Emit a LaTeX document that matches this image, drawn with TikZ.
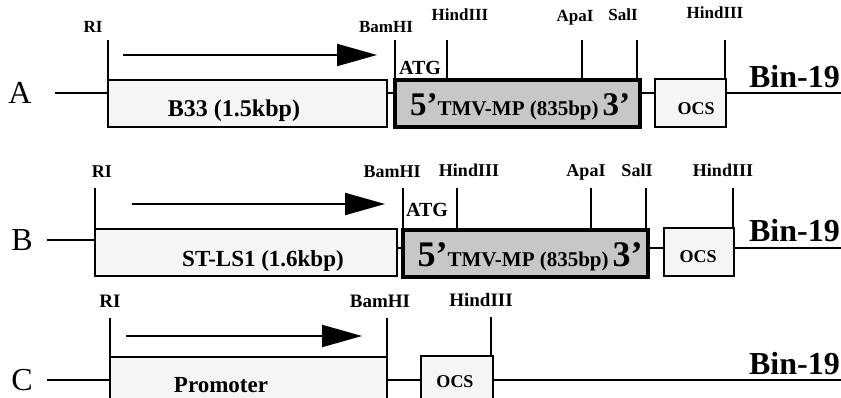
\documentclass[tikz,border=0pt]{standalone}
\usepackage{fontspec}
\setmainfont{Liberation Serif}
\usetikzlibrary{arrows.meta}
\newcommand{\tmvtext}[2]{{\fontsize{#1}{#1}\selectfont 5’}{\fontsize{#2}{#2}\selectfont TMV-MP (835bp)}\,{\fontsize{#1}{#1}\selectfont 3’}}
\begin{document}
\begin{tikzpicture}[x=1pt,y=-1pt,
  thinbox/.style={draw, line width=1.9pt, fill=black!4, inner sep=0pt, outer sep=0pt, anchor=north west},
  thickbox/.style={draw, line width=4pt, fill=black!22, inner sep=0pt, outer sep=0pt, anchor=north west},
  wire/.style={line width=1.9pt},
  site/.style={font=\bfseries\fontsize{#1}{#1}\selectfont, inner sep=0pt, anchor=base},
  site/.default=17,
  rowlab/.style={font=\fontsize{32}{32}\selectfont, inner sep=0pt},
  binlab/.style={font=\bfseries\fontsize{32}{32}\selectfont, inner sep=0pt, anchor=base east},
  boxtext/.style={font=\bfseries\fontsize{#1}{#1}\selectfont, inner sep=0pt, anchor=base},
  boxtext/.default=23,
  ocstext/.style={font=\bfseries\fontsize{18}{18}\selectfont, inner sep=0pt, anchor=base},
  dirarrow/.style={line width=2pt, -{Triangle[length=40pt,width=22pt]}},
]
\useasboundingbox (0,0) rectangle (841,398);

% ---------------- Row A ----------------
\node[rowlab] (labA) at (20,93) {A};
\node[thinbox, minimum width=279pt, minimum height=47pt] (b33) at (108,80) {};
\node[thickbox, minimum width=245pt, minimum height=47pt] (tmvA) at (395,80) {};
\node[thinbox, minimum width=71pt, minimum height=48pt] (ocsA) at (655,79) {};
\coordinate (Astart) at (55,93);
\coordinate (Aend) at (841,93);
\draw[wire] (Astart) -- (b33.west |- Astart);
\draw[wire] (b33.east |- Astart) -- (tmvA.west |- Astart);
\draw[wire] (tmvA.east |- Astart) -- (ocsA.west |- Astart);
\draw[wire] (ocsA.east |- Astart) -- (Aend);
\node[boxtext=24] (b33t) at (234,117) {B33 (1.5kbp)};
\node[boxtext] (tmvAt) at (520,116) {\tmvtext{33}{21}};
\node[ocstext] (ocsAt) at (696,115) {OCS};
\node[binlab] (binA) at (840,88) {Bin-19};
\node[site] (riA) at (93,33) {RI};
\node[site] (bamA) at (386,33) {BamHI};
\node[site] (hindA) at (460,21) {HindIII};
\node[site] (apaA) at (575,22) {ApaI};
\node[site] (salA) at (623,21) {SalI};
\node[site] (hind2A) at (715,19) {HindIII};
\node[site=20] (atgA) at (420,75) {ATG};
\coordinate (tRIa) at (108,40);
\coordinate (tBamA) at (395,40);
\coordinate (tHindA) at (447,40);
\coordinate (tApaA) at (582,40);
\coordinate (tSalA) at (637,40);
\coordinate (tHind2A) at (725,40);
\draw[wire] (tRIa) -- (tRIa |- b33.north);
\draw[wire] (tBamA) -- (tBamA |- tmvA.north);
\draw[wire] (tHindA) -- (tHindA |- tmvA.north);
\draw[wire] (tApaA) -- (tApaA |- tmvA.north);
\draw[wire] (tSalA) -- (tSalA |- tmvA.north);
\draw[wire] (tHind2A) -- (tHind2A |- ocsA.north);
\coordinate (arA1) at (123,55);
\coordinate (arA2) at (377,55);
\draw[dirarrow] (arA1) -- (arA2);

% ---------------- Row B ----------------
\node[rowlab] (labB) at (22,240) {B};
\node[thinbox, minimum width=302pt, minimum height=47pt] (stls) at (95,229) {};
\node[thickbox, minimum width=245pt, minimum height=47pt] (tmvB) at (403,230) {};
\node[thinbox, minimum width=70pt, minimum height=48pt] (ocsB) at (664,228) {};
\coordinate (Bstart) at (47,240);
\coordinate (Bmid) at (0,248);
\coordinate (Bend) at (841,248);
\draw[wire] (Bstart) -- (stls.west |- Bstart);
\draw[wire] (stls.east |- Bmid) -- (tmvB.west |- Bmid);
\draw[wire] (tmvB.east |- Bmid) -- (ocsB.west |- Bmid);
\draw[wire] (ocsB.east |- Bmid) -- (Bend);
\node[boxtext] (stlst) at (263,267) {ST-LS1 (1.6kbp)};
\node[boxtext] (tmvBt) at (530,267) {\tmvtext{36}{21}};
\node[ocstext] (ocsBt) at (698,262) {OCS};
\node[binlab] (binB) at (840,242) {Bin-19};
\node[site=18] (riB) at (102,178) {RI};
\node[site=18] (bamB) at (392,178) {BamHI};
\node[site=18] (hindB) at (469,177) {HindIII};
\node[site=18] (apaB) at (586,177) {ApaI};
\node[site=18] (salB) at (637,177) {SalI};
\node[site=18] (hind2B) at (723,177) {HindIII};
\node[site=20] (atgB) at (427,217) {ATG};
\coordinate (tRIb) at (95,188);
\coordinate (tBamB) at (403,188);
\coordinate (tHindB) at (457,188);
\coordinate (tApaB) at (591,188);
\coordinate (tSalB) at (646,188);
\coordinate (tHind2B) at (733,188);
\draw[wire] (tRIb) -- (tRIb |- stls.north);
\draw[wire] (tBamB) -- (tBamB |- tmvB.north);
\draw[wire] (tHindB) -- (tHindB |- tmvB.north);
\draw[wire] (tApaB) -- (tApaB |- tmvB.north);
\draw[wire] (tSalB) -- (tSalB |- tmvB.north);
\draw[wire] (tHind2B) -- (tHind2B |- ocsB.north);
\coordinate (arB1) at (132,204);
\coordinate (arB2) at (385,204);
\draw[dirarrow] (arB1) -- (arB2);

% ---------------- Row C ----------------
\node[rowlab] (labC) at (22,380) {C};
\node[thinbox, minimum width=277pt, minimum height=60pt] (prom) at (110,357) {};
\node[thinbox, minimum width=72pt, minimum height=60pt] (ocsC) at (421,356) {};
\coordinate (Cstart) at (47,380);
\coordinate (Cend) at (841,380);
\draw[wire] (Cstart) -- (prom.west |- Cstart);
\draw[wire] (prom.east |- Cstart) -- (ocsC.west |- Cstart);
\draw[wire] (ocsC.east |- Cstart) -- (Cend);
\node[boxtext] (promt) at (221,392) {Promoter};
\node[ocstext] (ocsCt) at (455,387) {OCS};
\node[binlab] (binC) at (840,374) {Bin-19};
\node[site=19] (riC) at (110,307) {RI};
\node[site=19] (bamC) at (380,307) {BamHI};
\node[site=19] (hindC) at (481,306) {HindIII};
\coordinate (tRIc) at (110,318);
\coordinate (tBamC) at (387,318);
\coordinate (tHindC) at (491,317);
\draw[wire] (tRIc) -- (tRIc |- prom.north);
\draw[wire] (tBamC) -- (tBamC |- prom.north);
\draw[wire] (tHindC) -- (tHindC |- ocsC.north);
\coordinate (arC1) at (126,336);
\coordinate (arC2) at (362,336);
\draw[dirarrow] (arC1) -- (arC2);
\end{tikzpicture}
\end{document}
